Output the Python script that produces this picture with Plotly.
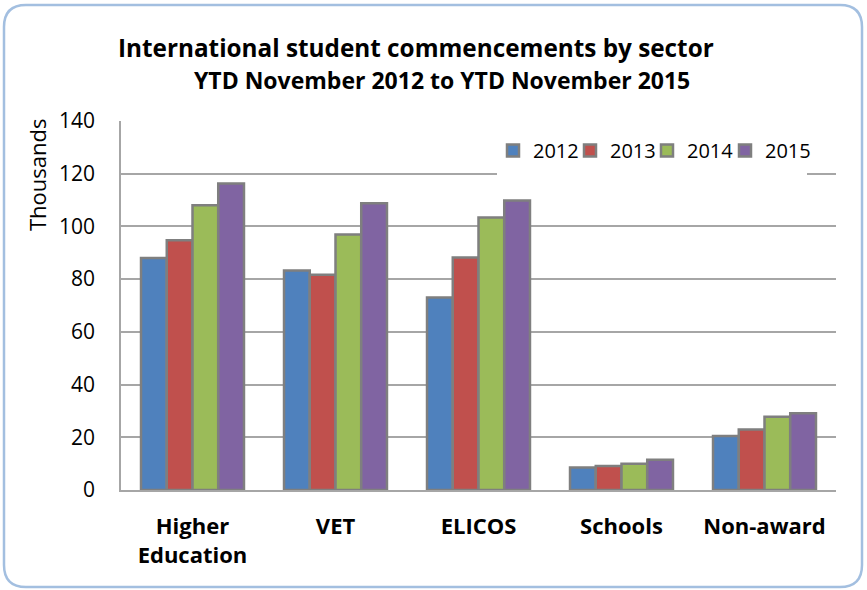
import plotly.graph_objects as go

categories = ["Higher<br>Education", "VET", "ELICOS", "Schools", "Non-award"]
years = ["2012", "2013", "2014", "2015"]
v2012 = [88.0, 83.3, 73.0, 8.5, 20.5]
v2013 = [94.8, 81.7, 88.2, 9.1, 23.0]
v2014 = [108.0, 96.9, 103.4, 10.0, 27.8]
v2015 = [116.3, 108.8, 109.8, 11.5, 29.1]
series = [v2012, v2013, v2014, v2015]
colors = ["#4f81bd", "#c0504d", "#9bbb59", "#8064a2"]
yticks = [0, 20, 40, 60, 80, 100, 120, 140]
title_lines = ["International student commencements by sector",
               "YTD November 2012 to YTD November 2015"]
y_title = "Thousands"

FONT = "Open Sans"

legend_ids = ["legend", "legend2", "legend3", "legend4"]

fig = go.Figure()
for name, vals, col, lid in zip(years, series, colors, legend_ids):
    fig.add_trace(go.Bar(
        x=categories, y=vals, name=name, legend=lid, showlegend=True,
        marker=dict(color=col, line=dict(color="#7f7f7f", width=2.5)),
    ))

W, H = 867, 590
L, R, T, B = 121, 31, 121, 100
pw, ph = W - L - R, H - T - B

def px(x):
    return (x - L) / pw

def py(y):
    return (H - B - y) / ph

# rounded outer border (decoration) in paper coords
x0, x1, y0, y1, r = 4, 862, 5, 587, 22
path = (
    f"M {px(x0 + r)} {py(y0)} L {px(x1 - r)} {py(y0)} "
    f"Q {px(x1)} {py(y0)} {px(x1)} {py(y0 + r)} "
    f"L {px(x1)} {py(y1 - r)} Q {px(x1)} {py(y1)} {px(x1 - r)} {py(y1)} "
    f"L {px(x0 + r)} {py(y1)} Q {px(x0)} {py(y1)} {px(x0)} {py(y1 - r)} "
    f"L {px(x0)} {py(y0 + r)} Q {px(x0)} {py(y0)} {px(x0 + r)} {py(y0)} Z"
)

annotations = [
    dict(text=title_lines[0], x=px(416), y=py(47), xref="paper", yref="paper",
         xanchor="center", yanchor="middle", showarrow=False,
         font=dict(family=FONT, size=24.3, color="#000000", weight="bold")),
    dict(text=title_lines[1], x=px(442), y=py(80), xref="paper", yref="paper",
         xanchor="center", yanchor="middle", showarrow=False,
         font=dict(family=FONT, size=23, color="#000000", weight="bold")),
    dict(text=y_title, x=px(37), y=py(175), xref="paper", yref="paper",
         xanchor="center", yanchor="middle", showarrow=False, textangle=-90,
         font=dict(family=FONT, size=22, color="#000000")),
]

leg_common = dict(orientation="h", yanchor="top", y=py(131), xanchor="left",
                  bgcolor="rgba(0,0,0,0)", font=dict(size=20, family=FONT),
                  itemwidth=30, visible=True)
leg_x = [493, 570, 647, 725]

layout_legends = {lid: dict(x=px(xx), **leg_common) for lid, xx in zip(legend_ids, leg_x)}

fig.update_layout(
    width=W, height=H,
    margin=dict(l=L, r=R, t=T, b=B),
    paper_bgcolor="white", plot_bgcolor="white",
    showlegend=True,
    barmode="group", bargap=0.28, bargroupgap=0,
    font=dict(family=FONT, color="#000000", size=20),
    yaxis=dict(
        range=[0, 140], tickvals=yticks, ticktext=[str(t) for t in yticks],
        showgrid=True, gridcolor="#a6a6a6", gridwidth=1.5,
        showline=True, linecolor="#a6a6a6", linewidth=1.5,
        ticks="", ticklabelstandoff=20,
        tickfont=dict(size=21, family=FONT),
        zeroline=False,
    ),
    xaxis=dict(
        showline=True, linecolor="#a6a6a6", linewidth=1.5,
        tickfont=dict(size=22, family=FONT, weight="bold"),
        ticklabelstandoff=16,
    ),
    annotations=annotations,
    shapes=[
        dict(type="path", path=path, xref="paper", yref="paper",
             line=dict(color="#a3bfe0", width=2.5), fillcolor="rgba(0,0,0,0)",
             layer="below"),
        # white legend box hiding the gridline behind the legend
        dict(type="rect", xref="paper", yref="paper",
             x0=px(497), x1=px(807), y0=py(180), y1=py(128),
             fillcolor="white", line=dict(width=0), layer="above"),
    ],
    **layout_legends,
)

fig.write_html("out.html", config={"displayModeBar": False},
               post_script="document.body.style.margin='0';")
